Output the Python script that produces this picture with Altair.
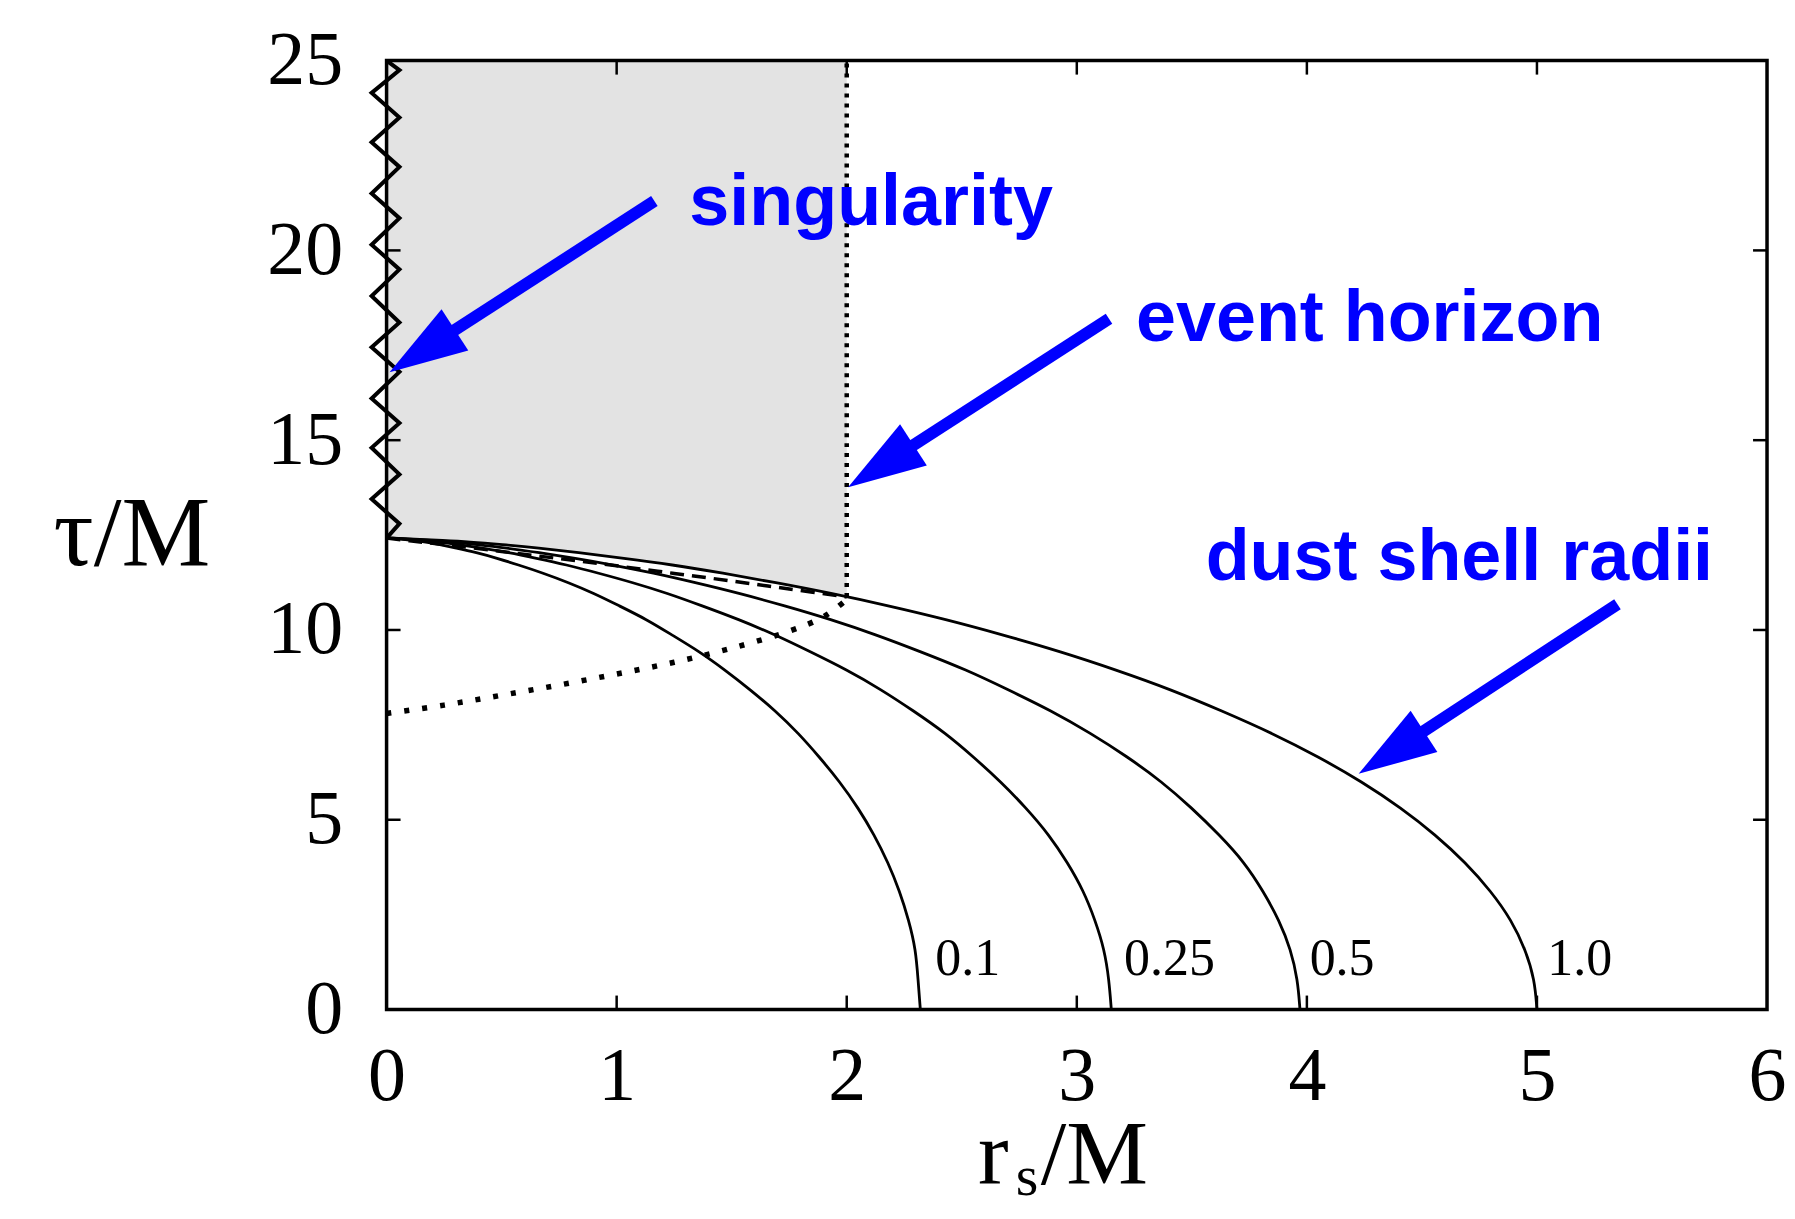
import altair as alt
import pandas as pd

# ---------------- data ----------------
tau_shell = [0.0, 0.79, 1.58, 2.35, 3.12, 3.87, 4.60, 5.31, 6.00, 6.66, 7.28, 7.87, 8.43, 8.95, 9.43,
             9.87, 10.28, 10.64, 10.97, 11.25, 11.50, 11.72, 11.89, 12.04, 12.16, 12.25, 12.32, 12.36,
             12.39, 12.41, 12.418, 12.42]
r_shell_01 = [2.32, 2.31, 2.30, 2.27, 2.23, 2.18, 2.12, 2.05, 1.97, 1.88, 1.79, 1.69, 1.58, 1.47, 1.36,
              1.24, 1.13, 1.01, 0.90, 0.79, 0.68, 0.57, 0.48, 0.39, 0.30, 0.23, 0.17, 0.11, 0.07, 0.03, 0.01, 0.0]
r_shell_025 = [3.15, 3.14, 3.12, 3.08, 3.03, 2.96, 2.88, 2.78, 2.67, 2.55, 2.43, 2.29, 2.15, 2.00, 1.84,
               1.69, 1.53, 1.37, 1.22, 1.07, 0.92, 0.78, 0.65, 0.53, 0.41, 0.31, 0.23, 0.15, 0.09, 0.05, 0.02, 0.0]
r_shell_05 = [3.97, 3.96, 3.93, 3.88, 3.81, 3.73, 3.62, 3.50, 3.37, 3.22, 3.06, 2.89, 2.70, 2.52, 2.32,
              2.13, 1.93, 1.73, 1.53, 1.34, 1.16, 0.98, 0.82, 0.66, 0.52, 0.39, 0.28, 0.19, 0.11, 0.06, 0.02, 0.0]
r_shell_10 = [5.00, 4.99, 4.95, 4.89, 4.80, 4.69, 4.56, 4.41, 4.24, 4.05, 3.85, 3.63, 3.41, 3.17, 2.93,
              2.68, 2.43, 2.18, 1.93, 1.69, 1.46, 1.24, 1.03, 0.83, 0.66, 0.50, 0.36, 0.24, 0.14, 0.07, 0.03, 0.0]
shell_names = ["0.1", "0.25", "0.5", "1.0"]
shell_label_r = [2.385, 3.205, 4.012, 5.045]
shell_label_tau = [0.92, 0.92, 0.92, 0.92]

# trapped region (grey) lower boundary
r_trapped = [2.0, 1.93, 1.69, 1.46, 1.24, 1.03, 0.83, 0.66, 0.50, 0.36, 0.24, 0.14, 0.07, 0.03, 0.0]
tau_trapped = [10.87, 10.97, 11.25, 11.50, 11.72, 11.89, 12.04, 12.16, 12.25, 12.32, 12.36, 12.39,
               12.41, 12.418, 12.42]

# apparent horizon (dashed)
r_ah = [0.0, 0.1, 0.25, 0.5, 0.75, 1.0, 1.25, 1.5, 1.75, 2.0]
tau_ah = [12.42, 12.35, 12.25, 12.07, 11.88, 11.69, 11.49, 11.29, 11.08, 10.87]

# event horizon inside the matter (dotted)
r_eh = [0.0, 0.25, 0.5, 0.75, 1.0, 1.25, 1.5, 1.75, 1.9, 2.0]
tau_eh = [7.8, 8.02, 8.28, 8.55, 8.84, 9.15, 9.52, 9.97, 10.35, 10.8]

# event horizon outside (dotted vertical)
r_eh_out = [2.0]
tau_eh_out_from = [10.87]
tau_eh_out_to = [25.0]

# singularity (zig-zag at r = 0)
r_sing = [0.0, 0.056, -0.065, 0.056, -0.065, 0.056, -0.065, 0.056, -0.065, 0.056, -0.065,
          0.056, -0.065, 0.056, -0.065, 0.056, -0.065, 0.056, -0.065, 0.056, 0.0]
tau_sing = [12.42, 12.8, 13.45, 14.1, 14.8, 15.45, 16.1, 16.8, 17.45, 18.1, 18.8,
            19.5, 20.15, 20.85, 21.5, 22.2, 22.85, 23.5, 24.15, 24.75, 25.0]

# annotations
ann_text = ["singularity", "event horizon", "dust shell radii"]
ann_r = [1.316, 3.257, 3.56]
ann_tau = [20.66, 17.6, 11.32]
arrow_tail_r = [1.164, 3.14, 5.35]
arrow_tail_tau = [21.3, 18.2, 10.68]
arrow_tip_r = [0.013, 2.006, 4.225]
arrow_tip_tau = [16.79, 13.76, 6.21]

x_ticks = [0, 1, 2, 3, 4, 5, 6]
y_ticks = [0, 5, 10, 15, 20, 25]

# ---------------- build tables ----------------
W, H = 1382, 950
TICK = 14

shell_rows = []
for name, rs in zip(shell_names, [r_shell_01, r_shell_025, r_shell_05, r_shell_10]):
    for i, (r, t) in enumerate(zip(rs, tau_shell)):
        shell_rows.append({"r": r, "tau": t, "shell": name, "i": i})
shells = pd.DataFrame(shell_rows)
shell_labels = pd.DataFrame({"r": shell_label_r, "tau": shell_label_tau, "txt": shell_names})
trapped = pd.DataFrame({"r": r_trapped, "tau": tau_trapped, "top": [25.0] * len(r_trapped)})
ah = pd.DataFrame({"r": r_ah, "tau": tau_ah, "i": range(len(r_ah))})
eh = pd.DataFrame({"r": r_eh, "tau": tau_eh, "i": range(len(r_eh))})
eh_out = pd.DataFrame({"r": r_eh_out, "tau": tau_eh_out_from, "tau2": tau_eh_out_to})
sing = pd.DataFrame({"r": r_sing, "tau": tau_sing, "i": range(len(r_sing))})
ann = pd.DataFrame({"r": ann_r, "tau": ann_tau, "txt": ann_text})

shaft_rows = []
head_rows = []
for k in range(3):
    tr, tt = arrow_tail_r[k], arrow_tail_tau[k]
    pr, pt = arrow_tip_r[k], arrow_tip_tau[k]
    nr, nt = pr + 0.22 * (tr - pr), pt + 0.22 * (tt - pt)
    shaft_rows.append({"r": tr, "tau": tt, "a": k, "i": 0})
    shaft_rows.append({"r": nr, "tau": nt, "a": k, "i": 1})
    head_rows.append({"r": pr, "tau": pt, "a": k})
shafts = pd.DataFrame(shaft_rows)
heads = pd.DataFrame(head_rows)

xt = pd.DataFrame({"r": x_ticks[1:-1]})
yt = pd.DataFrame({"tau": y_ticks[1:-1]})
one = pd.DataFrame({"a": [0]})

# ---------------- encodings ----------------
xs = alt.Scale(domain=[0, 6], nice=False, zero=False)
ys = alt.Scale(domain=[0, 25], nice=False, zero=False)
xaxis = alt.Axis(values=x_ticks, format="d", domain=False, ticks=False, grid=False,
                 labelFont="Liberation Serif", labelFontSize=76, labelColor="black",
                 labelPadding=30, labelFlush=False, labelOverlap=False, title=None)
yaxis = alt.Axis(values=y_ticks, format="d", domain=False, ticks=False, grid=False,
                 labelFont="Liberation Serif", labelFontSize=76, labelColor="black",
                 labelPadding=44, labelFlush=False, labelOverlap=False, title=None)
X = alt.X("r:Q", scale=xs, axis=xaxis)
Y = alt.Y("tau:Q", scale=ys, axis=yaxis)

BLUE = "#0000ff"

grey = alt.Chart(trapped).mark_area(color="#e3e3e3", interpolate="basis", clip=True).encode(
    x=X, y=Y, y2=alt.Y2("top:Q"))

eh_out_rule = alt.Chart(eh_out).mark_rule(color="black", strokeWidth=4.5, strokeDash=[4, 6]).encode(
    x=X, y=Y, y2=alt.Y2("tau2:Q"))

eh_line = alt.Chart(eh).mark_line(color="black", strokeWidth=5.5, strokeDash=[5, 13],
                                  interpolate="catmull-rom").encode(x=X, y=Y, order="i:Q")

ah_line = alt.Chart(ah).mark_line(color="black", strokeWidth=3.5, strokeDash=[14, 8],
                                  interpolate="catmull-rom").encode(x=X, y=Y, order="i:Q")

shell_lines = alt.Chart(shells).mark_line(color="black", strokeWidth=2.8, interpolate="basis").encode(
    x=X, y=Y, detail="shell:N", order="i:Q")

shell_text = alt.Chart(shell_labels).mark_text(font="Liberation Serif", fontSize=52, align="left",
                                               baseline="alphabetic", color="black").encode(
    x=X, y=Y, text="txt:N")

sing_line = alt.Chart(sing).mark_line(color="black", strokeWidth=4, strokeJoin="miter", clip=False).encode(
    x=X, y=Y, order="i:Q")

frame = alt.Chart(one).mark_rect(filled=False, stroke="black", strokeWidth=3.5).encode(
    x=alt.value(0), x2=alt.value(W), y=alt.value(0), y2=alt.value(H))

tick_b = alt.Chart(xt).mark_rule(color="black", strokeWidth=2.5).encode(
    x=X, y=alt.value(H), y2=alt.value(H - TICK))
tick_t = alt.Chart(xt).mark_rule(color="black", strokeWidth=2.5).encode(
    x=X, y=alt.value(0), y2=alt.value(TICK))
tick_l = alt.Chart(yt).mark_rule(color="black", strokeWidth=2.5).encode(
    y=Y, x=alt.value(0), x2=alt.value(TICK))
tick_r = alt.Chart(yt).mark_rule(color="black", strokeWidth=2.5).encode(
    y=Y, x=alt.value(W), x2=alt.value(W - TICK))

shaft_lines = alt.Chart(shafts).mark_line(color=BLUE, strokeWidth=12, strokeCap="butt").encode(
    x=X, y=Y, detail="a:N", order="i:Q")
head_pts = alt.Chart(heads).mark_point(shape="M0,0 L0.63,2 L-0.63,2 Z", size=6084, angle=237,
                                       filled=True, color=BLUE, opacity=1, strokeWidth=0).encode(x=X, y=Y)

ann_text_layer = alt.Chart(ann).mark_text(font="Liberation Sans", fontWeight="bold", fontSize=72,
                                          align="left", baseline="alphabetic", color=BLUE).encode(
    x=X, y=Y, text="txt:N")

# axis titles
ytitle = alt.Chart(one).mark_text(text="τ/M", font="Liberation Serif", fontSize=100, align="center",
                                  baseline="alphabetic", color="black").encode(
    x=alt.value(-255), y=alt.value(505))
xtitle_r = alt.Chart(one).mark_text(text="r", font="Liberation Serif", fontSize=92, align="left",
                                    baseline="alphabetic", color="black").encode(
    x=alt.value(592), y=alt.value(1125))
xtitle_s = alt.Chart(one).mark_text(text="s", font="Liberation Serif", fontSize=58, align="left",
                                    baseline="alphabetic", color="black").encode(
    x=alt.value(630), y=alt.value(1136))
xtitle_m = alt.Chart(one).mark_text(text="/M", font="Liberation Serif", fontSize=92, align="left",
                                    baseline="alphabetic", color="black").encode(
    x=alt.value(655), y=alt.value(1125))

chart = alt.layer(
    grey, eh_out_rule, eh_line, ah_line, shell_lines, shell_text, sing_line,
    frame, tick_b, tick_t, tick_l, tick_r,
    shaft_lines, head_pts, ann_text_layer,
    ytitle, xtitle_r, xtitle_s, xtitle_m,
).properties(
    width=W, height=H,
    autosize=alt.AutoSizeParams(type="none"),
    padding={"left": 379, "top": 52, "right": 20, "bottom": 198},
).configure_view(stroke=None)

chart.save("out.html", embed_options={"renderer": "svg", "actions": False})
